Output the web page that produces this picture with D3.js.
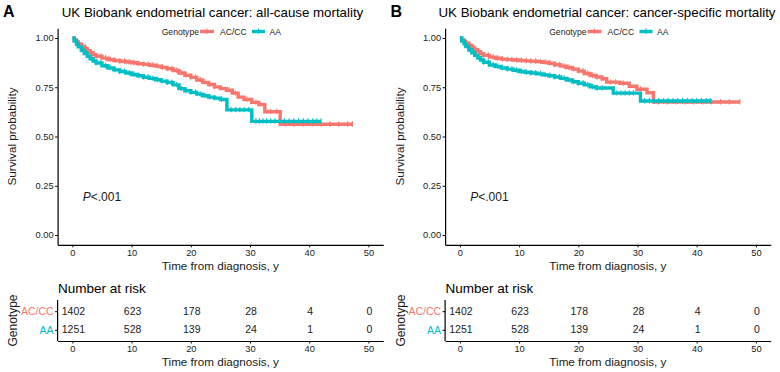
<!DOCTYPE html>
<html>
<head>
<meta charset="utf-8">
<script src="https://cdn.jsdelivr.net/npm/d3@7/dist/d3.min.js"></script>
<style>
  body { margin: 0; background: #fff; }
  text { font-family: "Liberation Sans", Arial, sans-serif; }
</style>
</head>
<body>
<svg width="780" height="372"></svg>
<script>
// data
var groups = ["AC/CC", "AA"];
var colors = ["#F8766D", "#00BFC4"];
var years = [0, 10, 20, 30, 40, 50];
var yTicks = [0, 0.25, 0.5, 0.75, 1];

var riskACCC = [1402, 623, 178, 28, 4, 0];
var riskAA = [1251, 528, 139, 24, 1, 0];

// [time, survival] steps
var allCauseACCC = [[0,1],[0.3,0.99],[0.7,0.98],[1,0.97],[1.5,0.958],[2,0.946],[2.5,0.935],[3,0.925],[3.5,0.915],[4,0.907],[5,0.898],[6,0.891],[7,0.886],[8,0.882],[9,0.878],[10,0.874],[11,0.87],[12,0.866],[13,0.862],[14,0.857],[15,0.851],[16,0.844],[17,0.835],[18,0.822],[19,0.811],[20,0.8],[21,0.787],[22,0.775],[23,0.764],[24,0.752],[25,0.743],[26,0.735],[27,0.72],[28,0.7],[29,0.688],[30.3,0.673],[31.5,0.662],[32.5,0.626],[35.1,0.562],[47.3,0.562]];
var allCauseAA = [[0,1],[0.3,0.985],[0.7,0.968],[1,0.955],[1.5,0.938],[2,0.921],[2.5,0.907],[3,0.895],[3.5,0.883],[4,0.873],[5,0.859],[6,0.848],[7,0.838],[8,0.83],[9,0.822],[10,0.815],[11,0.808],[12,0.801],[13,0.795],[14,0.788],[15,0.781],[16,0.774],[17,0.762],[18,0.743],[19,0.732],[20,0.724],[21,0.715],[22,0.707],[23,0.7],[24,0.695],[25,0.688],[26.1,0.635],[30.3,0.577],[42,0.577]];
var cancerACCC = [[0,1],[0.3,0.99],[0.7,0.982],[1,0.973],[1.5,0.962],[2,0.95],[2.5,0.94],[3,0.93],[3.5,0.92],[4,0.912],[5,0.903],[6,0.897],[7,0.893],[8,0.89],[9,0.888],[10,0.886],[11,0.884],[12,0.882],[13,0.88],[14,0.877],[15,0.872],[16,0.864],[17,0.857],[18,0.85],[19,0.842],[20,0.832],[21,0.82],[22,0.81],[23,0.802],[24,0.793],[24.8,0.776],[27,0.77],[28.6,0.755],[29.9,0.74],[31.6,0.722],[32.7,0.675],[47.3,0.675]];
var cancerAA = [[0,1],[0.3,0.985],[0.7,0.97],[1,0.957],[1.5,0.94],[2,0.925],[2.5,0.912],[3,0.9],[3.5,0.888],[4,0.877],[5,0.863],[6,0.855],[7,0.848],[8,0.842],[9,0.836],[10,0.83],[11,0.826],[12,0.822],[13,0.818],[14,0.813],[15,0.808],[16,0.802],[17,0.795],[18,0.787],[19,0.778],[20,0.77],[21,0.762],[22,0.752],[23,0.746],[25.9,0.72],[30.5,0.68],[42.3,0.68]];

// censoring times
var earlyCens = [0.8,1.6,2.4,3.2,4,4.8,5.6,6.4,7.2,8,8.8,9.6,10.4,11.2,12,12.8,13.6,14.4,15.2,16,16.8,17.6,18.4,19.2,20,20.8,21.6,22.4,23.2,24];
var allCauseACCCCens = [26.5,27.5,29.5,31,33.5,34.5,36,37.5,39,40.5,42,43.5,45,46.5,47.3];
var allCauseAACens = [25.2,26.8,27.6,28.3,29,29.8,31,31.6,32.2,32.8,33.5,34.2,35,35.8,36.6,37.4,38.2,39,39.8,40.6,41.3,42];
var cancerACCCCens = [25.5,26.3,27.6,30.5,33.5,35,36.5,38,39.5,41,42.5,44,45.5,47.3];
var cancerAACens = [26.5,27.2,27.9,28.6,29.3,31.2,32,32.8,33.6,34.4,35.2,36,36.8,37.6,38.4,39.2,40,40.8,41.6,42.3];

var panels = [
  {letter: "A", dx: 0, title: "UK Biobank endometrial cancer: all-cause mortality", titleX: 212.5,
   curves: [allCauseACCC, allCauseAA], cens: [allCauseACCCCens, allCauseAACens]},
  {letter: "B", dx: 387.5, title: "UK Biobank endometrial cancer: cancer-specific mortality", titleX: 219.5,
   curves: [cancerACCC, cancerAA], cens: [cancerACCCCens, cancerAACens]}
];

var svg = d3.select("svg");
var ink = "#1a1a1a";

function survAt(curve, t)
{
  var i = d3.bisector(function(d){return d[0];}).right(curve, t) - 1;
  return curve[Math.max(0, i)][1];
}

function styleAxis(a)
{
  a.select(".domain").attr("stroke", "#000").attr("stroke-width", 1.2);
  a.selectAll(".tick line").attr("stroke", "#000").attr("stroke-width", 1);
  a.selectAll(".tick text").attr("fill", ink).style("font-size", "9.3px")
   .style("font-family", '"Liberation Sans", Arial, sans-serif');
}

function drawPanel(p)
{
  var g = svg.append("g").attr("transform", "translate(" + p.dx + ",0)");

  var x = d3.scaleLinear().domain([-2.5, 52.5]).range([57.6, 383.2]);
  var y = d3.scaleLinear().domain([-0.05, 1.05]).range([244.85, 28.15]);

  // panel letter and title
  g.append("text").attr("x", 3).attr("y", 17).text(p.letter)
   .style("font-size", "16px").style("font-weight", "bold").attr("fill", "#000");
  g.append("text").attr("x", p.titleX).attr("y", 16.5).attr("text-anchor", "middle")
   .text(p.title).style("font-size", "13.3px").attr("fill", "#000");

  // curves
  var line = d3.line().x(function(d){return x(d[0]);}).y(function(d){return y(d[1]);})
               .curve(d3.curveStepAfter);
  p.curves.forEach(function(c, k) {
    g.append("path").datum(c).attr("d", line).attr("fill", "none")
     .attr("stroke", colors[k]).attr("stroke-width", 3.4);
    var ct = earlyCens.concat(p.cens[k]);
    g.selectAll(".cens" + k).data(ct).enter().append("line")
     .attr("class", "cens" + k)
     .attr("x1", function(t){return x(t);}).attr("x2", function(t){return x(t);})
     .attr("y1", function(t){return y(survAt(c, t)) - 3;})
     .attr("y2", function(t){return y(survAt(c, t)) + 2.4;})
     .attr("stroke", colors[k]).attr("stroke-width", 1.1);
  });

  // axes
  var ya = g.append("g").attr("transform", "translate(57.6,0)")
    .call(d3.axisLeft(y).tickValues(yTicks).tickFormat(d3.format(".2f")).tickSize(2.5).tickSizeOuter(0).tickPadding(1.5));
  styleAxis(ya);
  var xa = g.append("g").attr("transform", "translate(0,244.85)")
    .call(d3.axisBottom(x).tickValues(years).tickSize(2.5).tickSizeOuter(0).tickPadding(2));
  styleAxis(xa);

  g.append("text").attr("transform", "translate(16,136.5) rotate(-90)").attr("text-anchor", "middle")
   .text("Survival probability").style("font-size", "11.7px").attr("fill", ink);
  g.append("text").attr("x", 220.4).attr("y", 270).attr("text-anchor", "middle")
   .text("Time from diagnosis, y").style("font-size", "11.7px").attr("fill", ink);

  // p value
  var pv = g.append("text").attr("x", 82.7).attr("y", 200.8).style("font-size", "12px").attr("fill", ink);
  pv.append("tspan").style("font-style", "italic").text("P");
  pv.append("tspan").text("<.001");

  // legend
  var lg = g.append("g").attr("transform", "translate(0,31.5)");
  lg.append("text").attr("x", 161.7).attr("dy", "0.35em").text("Genotype")
    .style("font-size", "8.6px").attr("fill", ink);
  var lx = [[200, 214, 220], [252, 265, 269.5]];
  groups.forEach(function(gr, k) {
    lg.append("line").attr("x1", lx[k][0]).attr("x2", lx[k][1]).attr("y1", 0).attr("y2", 0)
      .attr("stroke", colors[k]).attr("stroke-width", 3.4);
    var mid = (lx[k][0] + lx[k][1]) / 2;
    lg.append("line").attr("x1", mid).attr("x2", mid).attr("y1", -3).attr("y2", 2.4)
      .attr("stroke", colors[k]).attr("stroke-width", 1.1);
    lg.append("text").attr("x", lx[k][2]).attr("dy", "0.35em").text(gr)
      .style("font-size", "8.6px").attr("fill", ink);
  });

  // risk table
  var ry = d3.scalePoint().domain(groups).range([311.2, 329.8]);
  g.append("text").attr("x", 58).attr("y", 293).text("Number at risk")
   .style("font-size", "13.5px").attr("fill", "#000");
  var risks = [riskACCC, riskAA];
  risks.forEach(function(r, k) {
    g.selectAll(".risk" + k).data(r).enter().append("text")
     .attr("class", "risk" + k)
     .attr("x", function(d, i){return x(years[i]) + 1;})
     .attr("y", ry(groups[k])).attr("dy", "0.35em").attr("text-anchor", "middle")
     .text(function(d){return d;}).style("font-size", "10.5px").attr("fill", ink);
  });

  var rya = g.append("g").attr("transform", "translate(57.6,0)")
    .call(d3.axisLeft(ry).tickSize(2.5).tickSizeOuter(0).tickPadding(1.5));
  rya.select(".domain").attr("d", "M0,300V341").attr("stroke", "#000").attr("stroke-width", 1.2);
  rya.selectAll(".tick line").attr("stroke", "#000");
  rya.selectAll(".tick text").style("font-size", "10.5px")
     .style("font-family", '"Liberation Sans", Arial, sans-serif')
     .attr("fill", function(d, i){return colors[i];});

  var rxa = g.append("g").attr("transform", "translate(0,341)")
    .call(d3.axisBottom(x).tickValues(years).tickSize(2.5).tickSizeOuter(0).tickPadding(2));
  styleAxis(rxa);

  g.append("text").attr("transform", "translate(17,320.5) rotate(-90)").attr("text-anchor", "middle")
   .text("Genotype").style("font-size", "12px").attr("fill", ink);
  g.append("text").attr("x", 220.4).attr("y", 366).attr("text-anchor", "middle")
   .text("Time from diagnosis, y").style("font-size", "11.7px").attr("fill", ink);
}

panels.forEach(drawPanel);
</script>
</body>
</html>
